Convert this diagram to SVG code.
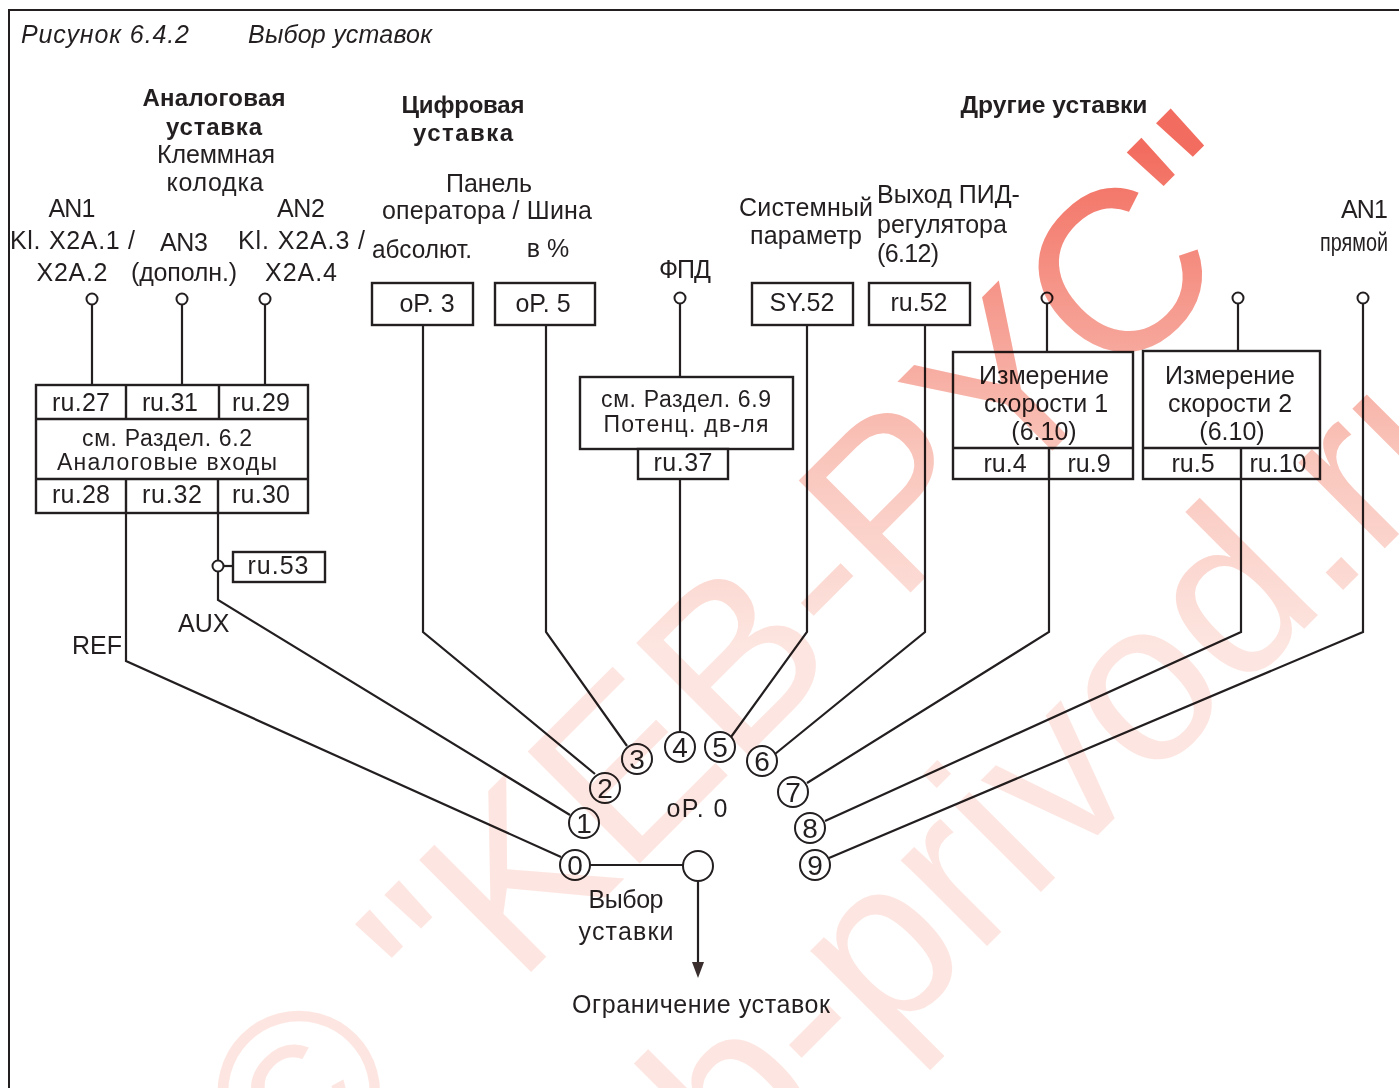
<svg xmlns="http://www.w3.org/2000/svg" width="1399" height="1088" viewBox="0 0 1399 1088">
<defs>
<style>
text{font-family:"Liberation Sans",Arial,sans-serif;font-size:25px;fill:#231f20}
.c{text-anchor:middle}
.e{text-anchor:end}
.b{font-weight:bold;font-size:24px}
.i{font-style:italic;font-size:25px}
.n{font-size:28px;text-anchor:middle}
.s{font-size:23px}
.box{fill:#fff;stroke:#231f20;stroke-width:2.4}
.sep{fill:none;stroke:#231f20;stroke-width:2.4}
.ln{fill:none;stroke:#231f20;stroke-width:2.2}
.term{fill:#fff;stroke:#231f20;stroke-width:2}
.wm{font-size:230px}
.wm1{fill:url(#wmg1)}
.wm2{fill:url(#wmg2)}
#watermark{mix-blend-mode:multiply}
</style>
<linearGradient id="wmg1" gradientUnits="userSpaceOnUse" x1="0" y1="150" x2="0" y2="650" gradientTransform="rotate(45) translate(-295,-1208)">
<stop offset="0" stop-color="#f26d5f"/>
<stop offset="0.6" stop-color="#f9c4ba"/>
<stop offset="1" stop-color="#fde6e1"/>
</linearGradient>
<linearGradient id="wmg2" gradientUnits="userSpaceOnUse" x1="0" y1="150" x2="0" y2="650" gradientTransform="rotate(45) translate(-569,-1364)">
<stop offset="0" stop-color="#f26d5f"/>
<stop offset="0.6" stop-color="#f9c4ba"/>
<stop offset="1" stop-color="#fde6e1"/>
</linearGradient>
</defs>
<rect width="1399" height="1088" fill="#fff"/>
<rect x="9" y="10" width="1400" height="1090" fill="none" stroke="#231f20" stroke-width="2"/>

<g id="title">
<text class="i" x="21" y="43" textLength="168">Рисунок 6.4.2</text>
<text class="i" x="248" y="43" textLength="184">Выбор уставок</text>
</g>

<g id="headers">
<text class="b c" x="214" y="106" textLength="143">Аналоговая</text>
<text class="b c" x="214" y="135" textLength="96">уставка</text>
<text class="c" x="216" y="163" textLength="118">Клеммная</text>
<text class="c" x="215" y="191" textLength="97">колодка</text>
<text class="b c" x="463" y="113" textLength="123">Цифровая</text>
<text class="b c" x="463" y="141" textLength="100">уставка</text>
<text class="c" x="489" y="192" textLength="86">Панель</text>
<text class="c" x="487" y="219" textLength="210">оператора / Шина</text>
<text class="b c" x="1054" y="113" textLength="187" lengthAdjust="spacingAndGlyphs">Другие уставки</text>
</g>

<g id="analog-labels">
<text class="c" x="72" y="217" textLength="47">AN1</text>
<text x="10" y="249" textLength="125">Kl. X2A.1 /</text>
<text class="c" x="72" y="281" textLength="71">X2A.2</text>
<text class="c" x="184" y="251" textLength="48">AN3</text>
<text class="c" x="184" y="281" textLength="106">(дополн.)</text>
<text class="c" x="301" y="217" textLength="48">AN2</text>
<text x="238" y="249" textLength="127">Kl. X2A.3 /</text>
<text class="c" x="301" y="281" textLength="72">X2A.4</text>
</g>

<g id="digital-labels">
<text x="372" y="258" textLength="100" lengthAdjust="spacingAndGlyphs">абсолют.</text>
<text class="c" x="548" y="257">в %</text>
<text class="c" x="685" y="278" textLength="52">ФПД</text>
</g>

<g id="other-labels">
<text x="739" y="216" textLength="134">Системный</text>
<text class="c" x="806" y="244" textLength="112">параметр</text>
<text x="877" y="203" font-size="24">Выход ПИД-</text>
<text x="877" y="233" font-size="24">регулятора</text>
<text x="877" y="262" textLength="62">(6.12)</text>
<text class="e" x="1388" y="218" textLength="47">AN1</text>
<text class="e" x="1388" y="251" textLength="68" lengthAdjust="spacingAndGlyphs">прямой</text>
</g>

<g id="connectors">
<path class="ln" d="M92,304.5V385M182,304.5V385M265,304.5V385"/>
<path class="ln" d="M126,513V661L561,857"/>
<path class="ln" d="M218,513V560.5M218,571.5V600L570,815"/>
<path class="ln" d="M223.5,566H233"/>
<path class="ln" d="M423,325V632L595,774"/>
<path class="ln" d="M546,325V632L627,746"/>
<path class="ln" d="M680,303.5V377M680,479V732"/>
<path class="ln" d="M807,325V632L731,737"/>
<path class="ln" d="M925,325V632L775,754"/>
<path class="ln" d="M1047,303.5V352M1049,479V632L807,783"/>
<path class="ln" d="M1238,303.5V351M1241,479V632L825,821"/>
<path class="ln" d="M1363,303.5V632L829,858"/>
<path class="ln" d="M590,865H683"/>
<path class="ln" d="M698,881V964"/>
<polygon points="692,962 704,962 698,978" fill="#3a2e2e"/>
</g>

<g id="terminals">
<circle class="term" cx="92" cy="299" r="5.5"/>
<circle class="term" cx="182" cy="299" r="5.5"/>
<circle class="term" cx="265" cy="299" r="5.5"/>
<circle class="term" cx="680" cy="298" r="5.5"/>
<circle class="term" cx="1047" cy="298" r="5.5"/>
<circle class="term" cx="1238" cy="298" r="5.5"/>
<circle class="term" cx="1363" cy="298" r="5.5"/>
<circle class="term" cx="218" cy="566" r="5.5"/>
</g>

<g id="analog-inputs">
<rect class="box" x="36" y="385" width="272" height="128"/>
<path class="sep" d="M36,419H308M36,479H308M126,385V419M219,385V419M126,479V513M218,479V513"/>
<text class="c" x="81" y="411" textLength="58">ru.27</text>
<text class="c" x="170" y="411" textLength="56">ru.31</text>
<text class="c" x="261" y="411" textLength="58">ru.29</text>
<text class="c s" x="167" y="446" textLength="170">см. Раздел. 6.2</text>
<text class="c s" x="167" y="470" textLength="220">Аналоговые  входы</text>
<text class="c" x="81" y="503" textLength="58">ru.28</text>
<text class="c" x="172" y="503" textLength="60">ru.32</text>
<text class="c" x="261" y="503" textLength="58">ru.30</text>
</g>

<g id="ru53">
<rect class="box" x="233" y="552" width="92" height="30"/>
<text class="c" x="278" y="574" textLength="61">ru.53</text>
</g>
<g id="aux-ref">
<text x="178" y="632">AUX</text>
<text x="72" y="654" font-size="23">REF</text>
</g>

<g id="op3">
<rect class="box" x="372" y="283" width="101" height="42"/>
<text class="c" x="427" y="312">oP. 3</text>
</g>
<g id="op5">
<rect class="box" x="495" y="283" width="100" height="42"/>
<text class="c" x="543" y="312">oP. 5</text>
</g>

<g id="motorpoti">
<rect class="box" x="580" y="377" width="213" height="72"/>
<text class="c s" x="686" y="407" textLength="170">см. Раздел. 6.9</text>
<text class="c s" x="686" y="432" textLength="165">Потенц.  дв-ля</text>
<rect class="box" x="638" y="449" width="90" height="30"/>
<text class="c" x="683" y="471" textLength="59">ru.37</text>
</g>

<g id="sy52">
<rect class="box" x="752" y="283" width="101" height="42"/>
<text class="c" x="802" y="311">SY.52</text>
</g>
<g id="ru52">
<rect class="box" x="869" y="283" width="101" height="42"/>
<text class="c" x="919" y="311">ru.52</text>
</g>

<g id="speed1">
<rect class="box" x="953" y="352" width="180" height="127"/>
<path class="sep" d="M953,448H1133M1049,448V479"/>
<text class="c" x="1044" y="384">Измерение</text>
<text class="c" x="1046" y="412">скорости 1</text>
<text class="c" x="1044" y="440">(6.10)</text>
<text class="c" x="1005" y="472">ru.4</text>
<text class="c" x="1089" y="472">ru.9</text>
</g>
<g id="speed2">
<rect class="box" x="1143" y="351" width="177" height="128"/>
<path class="sep" d="M1143,448H1320M1241,448V479"/>
<text class="c" x="1230" y="384">Измерение</text>
<text class="c" x="1230" y="412">скорости 2</text>
<text class="c" x="1232" y="440">(6.10)</text>
<text class="c" x="1193" y="472">ru.5</text>
<text class="c" x="1278" y="472">ru.10</text>
</g>

<g id="selector">
<circle class="term" cx="575" cy="865" r="15"/><text class="n" x="575" y="875">0</text>
<circle class="term" cx="584" cy="823" r="15"/><text class="n" x="584" y="833">1</text>
<circle class="term" cx="605" cy="788" r="15"/><text class="n" x="605" y="798">2</text>
<circle class="term" cx="637" cy="759" r="15"/><text class="n" x="637" y="769">3</text>
<circle class="term" cx="680" cy="747" r="15"/><text class="n" x="680" y="757">4</text>
<circle class="term" cx="720" cy="747" r="15"/><text class="n" x="720" y="757">5</text>
<circle class="term" cx="762" cy="761" r="15"/><text class="n" x="762" y="771">6</text>
<circle class="term" cx="793" cy="792" r="15"/><text class="n" x="793" y="802">7</text>
<circle class="term" cx="810" cy="828" r="15"/><text class="n" x="810" y="838">8</text>
<circle class="term" cx="815" cy="865" r="15"/><text class="n" x="815" y="875">9</text>
<circle class="term" cx="698" cy="866" r="15"/>
<text class="c" x="697" y="817" textLength="61">oP. 0</text>
<text class="c" x="626" y="908" textLength="75">Выбор</text>
<text class="c" x="626" y="940" textLength="95">уставки</text>
</g>

<g id="limit">
<text class="c" x="701" y="1013" textLength="258">Ограничение уставок</text>
</g>

<g id="watermark">
<text class="wm wm1" transform="translate(295,1208) rotate(-45)">© "KEB-PYC"</text>
<text class="wm wm2" transform="translate(569,1364) rotate(-45)">keb-privod.ru</text>
</g>
</svg>
